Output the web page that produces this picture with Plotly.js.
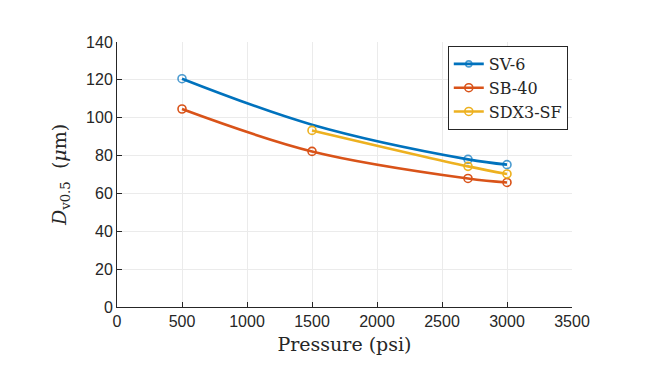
<!DOCTYPE html>
<html>
<head>
<meta charset="utf-8">
<script src="https://cdn.plot.ly/plotly-3.0.1.min.js"></script>
<style>html,body{margin:0;padding:0;background:#fff;}#chart{width:660px;height:370px;}</style>
</head>
<body>
<div id="chart"></div>
<script>
// Data
const seriesNames = ['SV-6', 'SB-40', 'SDX3-SF'];
const sv6Pressure = [500, 1500, 2700, 3000];
const sv6D = [120.6, 96.3, 78.0, 75.2];
const sv6Measured = [true, false, true, true]; // 1500 psi is on the curve only, no marker
const sb40Pressure = [500, 1500, 2700, 3000];
const sb40D = [104.6, 82.2, 67.9, 65.8];
const sdxPressure = [1500, 2700, 3000];
const sdxD = [93.3, 74.3, 70.3];
const xTicks = [0, 500, 1000, 1500, 2000, 2500, 3000, 3500];
const yTicks = [0, 20, 40, 60, 80, 100, 120, 140];

const colors = ['#0072BD', '#D95319', '#EDB120'];

function trace(name, x, y, color, shown) {
  return {
    type: 'scatter', mode: 'lines+markers', name: name, x: x, y: y,
    line: {color: color, width: 2.6, shape: 'spline', smoothing: 1},
    marker: {symbol: 'circle-open', color: color, size: shown ? shown.map(s => s ? 8 : 0) : 8, line: {width: 1.6, color: color}},
    cliponaxis: false
  };
}

const data = [
  trace(seriesNames[0], sv6Pressure, sv6D, colors[0], sv6Measured),
  trace(seriesNames[1], sb40Pressure, sb40D, colors[1]),
  trace(seriesNames[2], sdxPressure, sdxD, colors[2])
];

const tickFont = {family: 'Liberation Sans, Arial, sans-serif', size: 16, color: '#262626'};
const serif = 'DejaVu Serif, Liberation Serif, serif';

const layout = {
  width: 660, height: 370,
  margin: {l: 117, r: 88, t: 42, b: 63},
  paper_bgcolor: '#fff', plot_bgcolor: '#fff',
  showlegend: true,
  legend: {
    x: 0.727, y: 0.985, xanchor: 'left', yanchor: 'top',
    bordercolor: '#262626', borderwidth: 1, bgcolor: '#fff',
    font: {family: serif, size: 16, color: '#262626'},
    itemwidth: 30, tracegroupgap: 0
  },
  xaxis: {
    range: [0, 3500], tickvals: xTicks, ticktext: xTicks.map(String),
    showgrid: true, gridcolor: '#ebebeb', gridwidth: 1,
    zeroline: false, showline: true, linecolor: '#262626', linewidth: 1,
    ticks: 'inside', ticklen: 5, tickcolor: '#262626',
    tickfont: tickFont,
    title: {text: 'Pressure (psi)', font: {family: serif, size: 19, color: '#262626'}, standoff: 8}
  },
  yaxis: {
    range: [0, 140], tickvals: yTicks, ticktext: yTicks.map(String),
    showgrid: true, gridcolor: '#ebebeb', gridwidth: 1,
    zeroline: false, showline: true, linecolor: '#262626', linewidth: 1,
    ticks: 'inside', ticklen: 5, tickcolor: '#262626',
    tickfont: tickFont,
    title: {text: '<i>D</i><sub>v0.5</sub>  (<i>μ</i>m)', font: {family: serif, size: 19, color: '#262626'}, standoff: 14}
  }
};

Plotly.newPlot('chart', data, layout, {displayModeBar: false, staticPlot: true});
</script>
</body>
</html>
